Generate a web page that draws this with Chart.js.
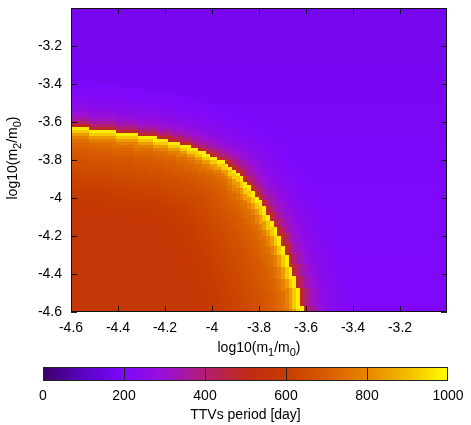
<!DOCTYPE html>
<html><head><meta charset="utf-8">
<script src="https://cdn.jsdelivr.net/npm/chart.js@4/dist/chart.umd.min.js"></script>
<style>
html,body{margin:0;padding:0;background:#fff;overflow:hidden}
#wrap{position:relative;width:471px;height:425px}
#wrap canvas{position:absolute;left:0;top:0}
</style></head><body>
<div id="wrap"><canvas id="main" width="471" height="425"></canvas><canvas id="cbar" width="471" height="425"></canvas></div>
<script>
// ---------- data ----------
const xRange = [-4.6, -3.0];
const yRange = [-4.6, -3.0];
const xTicks = [-4.6, -4.4, -4.2, -4.0, -3.8, -3.6, -3.4, -3.2];
const yTicks = [-4.6, -4.4, -4.2, -4.0, -3.8, -3.6, -3.4, -3.2];
const gridCount = 100; // cells per axis
// outer edge of the bright rim
const boundaryX = [-4.600,-4.519,-4.447,-4.379,-4.319,-4.264,-4.179,-4.123,-4.051,-3.979,-3.923,-3.881,-3.826,-3.783,-3.745,-3.711,-3.677,-3.651,-3.626,-3.613];
const boundaryY = [-3.626,-3.632,-3.642,-3.653,-3.663,-3.674,-3.695,-3.716,-3.747,-3.789,-3.821,-3.868,-3.958,-4.026,-4.116,-4.195,-4.300,-4.405,-4.495,-4.600];
// period [day] versus distance (in cells) from the rim, inside the region
const insideRim = [975,920,840,785,750,728,712,700,690,680,670,662,655,648,641,635,629,623,617,611,605,600,595,590,586,582,578,575,572,570];
// period [day] versus distance (in cells) from the rim, outside the region
const outsideRim = [485,405,352,316,290,270,255,243,233,225,218,212,207,203,200];
// far-field period by row, from y=-3.0 (top) to y=-4.6 (bottom) every 0.2
const farByRow = [178,182,186,190,194,198,201,204,206];
// colour bar
const cbarTicks = [0, 200, 400, 600, 800, 1000];
const cbarStopValues = [0,100,200,300,400,500,600,700,800,900,1000];
const cbarStopColors = ['#3a0066','#5a04c4','#7e08fc','#9a10d4','#b21e72','#c02a18','#c63c00','#d85c00','#e88600','#f4bc00','#ffff00'];
const cbarRange = [0, 1000];

const FONT = '"Liberation Sans", Arial, Helvetica, sans-serif';

// ---------- helpers ----------
function hexToRgb(h){return [parseInt(h.slice(1,3),16),parseInt(h.slice(3,5),16),parseInt(h.slice(5,7),16)];}
const stopRgb = cbarStopColors.map(hexToRgb);
function colorFor(v){
  if (v <= cbarStopValues[0]) return cbarStopColors[0];
  for (let k=1;k<cbarStopValues.length;k++){
    if (v <= cbarStopValues[k]){
      const t=(v-cbarStopValues[k-1])/(cbarStopValues[k]-cbarStopValues[k-1]);
      const a=stopRgb[k-1], b=stopRgb[k];
      return 'rgb('+Math.round(a[0]+(b[0]-a[0])*t)+','+Math.round(a[1]+(b[1]-a[1])*t)+','+Math.round(a[2]+(b[2]-a[2])*t)+')';
    }
  }
  return cbarStopColors[cbarStopColors.length-1];
}
const cdx=(xRange[1]-xRange[0])/gridCount, cdy=(yRange[1]-yRange[0])/gridCount;
const poly=[[xRange[0]-1,boundaryY[0]]];
for(let k=0;k<boundaryX.length;k++) poly.push([boundaryX[k],boundaryY[k]]);
poly.push([boundaryX[boundaryX.length-1],yRange[0]-1]);
poly.push([xRange[0]-1,yRange[0]-1]);
function inside(px,py){
  let c=false;
  for(let i=0,j=poly.length-1;i<poly.length;j=i++){
    const xi=poly[i][0],yi=poly[i][1],xj=poly[j][0],yj=poly[j][1];
    if(((yi>py)!==(yj>py)) && (px < (xj-xi)*(py-yi)/(yj-yi)+xi)) c=!c;
  }
  return c;
}
function distCells(px,py){
  let best=1e9;
  for(let k=0;k<boundaryX.length-1;k++){
    const ax=boundaryX[k]/cdx, ay=boundaryY[k]/cdy, bx=boundaryX[k+1]/cdx, by=boundaryY[k+1]/cdy;
    const qx=px/cdx, qy=py/cdy;
    const vx=bx-ax, vy=by-ay; const L=vx*vx+vy*vy;
    let t=L?((qx-ax)*vx+(qy-ay)*vy)/L:0; t=Math.max(0,Math.min(1,t));
    const ex=ax+vx*t-qx, ey=ay+vy*t-qy; const d=Math.sqrt(ex*ex+ey*ey);
    if(d<best) best=d;
  }
  return best;
}
const cells=[];
for(let j=0;j<gridCount;j++){
  const row=[]; const cy=yRange[0]+(j+0.5)*cdy;
  const fr=farByRow[Math.min(farByRow.length-1,Math.max(0,Math.round((yRange[1]-cy)/0.2)))];
  for(let i=0;i<gridCount;i++){
    const cx=xRange[0]+(i+0.5)*cdx;
    const d=Math.floor(distCells(cx,cy));
    if(inside(cx,cy)) row.push(insideRim[Math.min(d,insideRim.length-1)]);
    else row.push(Math.max(d<outsideRim.length?outsideRim[d]:0, fr));
  }
  cells.push(row);
}
function fmt(v){return String(Math.round(v*10)/10);}
function drawSubText(ctx, parts, cx, cy, rot){
  const big='14px '+FONT, small='11px '+FONT;
  let w=0; parts.forEach(p=>{ctx.font=p[1]?small:big; w+=ctx.measureText(p[0]).width;});
  ctx.save(); ctx.translate(cx,cy); if(rot) ctx.rotate(rot);
  ctx.fillStyle='#000'; ctx.textBaseline='alphabetic'; ctx.textAlign='left';
  let x=-w/2;
  parts.forEach(p=>{ctx.font=p[1]?small:big; ctx.fillText(p[0],x,p[1]?3.5:0); x+=ctx.measureText(p[0]).width;});
  ctx.restore();
}

// ---------- main heat map ----------
const heatPlugin={
  id:'heat',
  beforeDatasetsDraw(chart){
    const {ctx, chartArea:a, scales:{x,y}}=chart;
    ctx.save(); ctx.beginPath(); ctx.rect(a.left,a.top,a.right-a.left,a.bottom-a.top); ctx.clip();
    for(let j=0;j<gridCount;j++){
      const y0=y.getPixelForValue(yRange[0]+j*cdy), y1=y.getPixelForValue(yRange[0]+(j+1)*cdy);
      for(let i=0;i<gridCount;i++){
        const x0=x.getPixelForValue(xRange[0]+i*cdx), x1=x.getPixelForValue(xRange[0]+(i+1)*cdx);
        ctx.fillStyle=colorFor(cells[j][i]);
        ctx.fillRect(Math.floor(x0),Math.floor(y1),Math.ceil(x1)-Math.floor(x0),Math.ceil(y0)-Math.floor(y1));
      }
    }
    ctx.restore();
  },
  afterDraw(chart){
    const {ctx, chartArea:a, scales:{x,y}}=chart;
    ctx.save(); ctx.strokeStyle='rgba(0,0,0,0.85)'; ctx.lineWidth=1;
    ctx.beginPath();
    xTicks.forEach(v=>{const p=Math.round(x.getPixelForValue(v))+0.5; ctx.moveTo(p,a.bottom); ctx.lineTo(p,a.bottom-6); ctx.moveTo(p,a.top); ctx.lineTo(p,a.top+6);});
    yTicks.forEach(v=>{const p=Math.round(y.getPixelForValue(v))+0.5; ctx.moveTo(a.left,p); ctx.lineTo(a.left+6,p); ctx.moveTo(a.right,p); ctx.lineTo(a.right-6,p);});
    ctx.stroke();
    ctx.strokeStyle='#111';
    ctx.strokeRect(Math.round(a.left)+0.5,Math.round(a.top)+0.5,Math.round(a.right-a.left)-1,Math.round(a.bottom-a.top)-1);
    ctx.restore();
    drawSubText(ctx,[['log10(m',false],['1',true],['/m',false],['0',true],[')',false]],(a.left+a.right)/2,352,0);
    drawSubText(ctx,[['log10(m',false],['2',true],['/m',false],['0',true],[')',false]],17,(a.top+a.bottom)/2-2,-Math.PI/2);
  }
};
new Chart(document.getElementById('main'),{
  type:'scatter',
  data:{datasets:[{data:[]}]},
  options:{
    responsive:false, animation:false, events:[],
    layout:{padding:{left:0,top:8,right:24,bottom:425-312-30}},
    plugins:{legend:{display:false},tooltip:{enabled:false}},
    scales:{
      x:{type:'linear',min:xRange[0],max:xRange[1],
        afterBuildTicks:s=>{s.ticks=xTicks.map(v=>({value:v}));},
        ticks:{callback:v=>fmt(v),color:'#000',font:{family:FONT,size:14},padding:8,maxRotation:0,autoSkip:false},
        grid:{display:false,drawTicks:false},border:{display:false},
        afterFit:s=>{s.height=30;s.paddingLeft=0;s.paddingRight=0;s.paddingTop=0;s.paddingBottom=0;}},
      y:{type:'linear',min:yRange[0],max:yRange[1],
        afterBuildTicks:s=>{s.ticks=yTicks.map(v=>({value:v}));},
        ticks:{callback:v=>fmt(v),color:'#000',font:{family:FONT,size:14},padding:9,autoSkip:false},
        grid:{display:false,drawTicks:false},border:{display:false},
        afterFit:s=>{s.width=71;s.paddingLeft=0;s.paddingRight=0;s.paddingTop=0;s.paddingBottom=0;}}
    }
  },
  plugins:[heatPlugin]
});

// ---------- colour bar ----------
const cbarPlugin={
  id:'cbarDraw',
  beforeDatasetsDraw(chart){
    const {ctx, chartArea:a, scales:{x}}=chart;
    ctx.save();
    for(let p=Math.floor(a.left);p<Math.ceil(a.right);p++){
      ctx.fillStyle=colorFor(x.getValueForPixel(p+0.5));
      ctx.fillRect(p,a.top,1,a.bottom-a.top);
    }
    ctx.strokeStyle='#222'; ctx.lineWidth=1; ctx.beginPath();
    cbarTicks.slice(1,-1).forEach(v=>{const q=Math.round(x.getPixelForValue(v))+0.5; ctx.moveTo(q,a.top); ctx.lineTo(q,a.bottom);});
    ctx.stroke();
    ctx.strokeRect(Math.round(a.left)+0.5,Math.round(a.top)+0.5,Math.round(a.right-a.left)-1,Math.round(a.bottom-a.top)-1);
    ctx.restore();
  }
};
new Chart(document.getElementById('cbar'),{
  type:'scatter',
  data:{datasets:[{data:[]}]},
  options:{
    responsive:false, animation:false, events:[],
    layout:{padding:{left:43,right:23,top:367,bottom:0}},
    plugins:{legend:{display:false},tooltip:{enabled:false}},
    scales:{
      x:{type:'linear',min:cbarRange[0],max:cbarRange[1],
        afterBuildTicks:s=>{s.ticks=cbarTicks.map(v=>({value:v}));},
        ticks:{callback:v=>String(v),color:'#000',font:{family:FONT,size:14},padding:7,maxRotation:0,autoSkip:false},
        grid:{display:false,drawTicks:false},border:{display:false},
        title:{display:true,text:'TTVs period [day]',color:'#000',font:{family:FONT,size:14},padding:{top:0,bottom:1}},
        afterFit:s=>{s.height=44;s.paddingLeft=0;s.paddingRight=0;s.paddingTop=0;s.paddingBottom=0;}},
      y:{display:false,min:0,max:1}
    }
  },
  plugins:[cbarPlugin]
});
</script>
</body></html>
